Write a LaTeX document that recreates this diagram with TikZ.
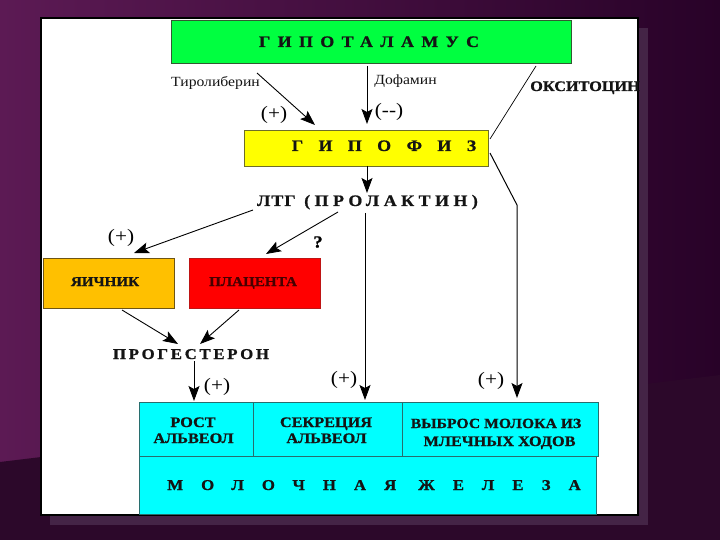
\documentclass[tikz,border=0pt]{standalone}
\usepackage{fontspec}
\setmainfont{Liberation Serif}[FakeStretch=1.12, BoldFeatures={FakeBold=0.9}]
\usetikzlibrary{arrows.meta}
\newcommand\lspc[2]{{\addfontfeature{LetterSpace=#1}#2}}
\definecolor{bgL}{RGB}{92,26,84}
\definecolor{bgR}{RGB}{40,2,40}
\definecolor{bgD}{RGB}{44,8,42}
\definecolor{shad}{RGB}{68,36,70}
\definecolor{grn}{RGB}{0,255,64}
\definecolor{ylw}{RGB}{255,255,0}
\definecolor{org}{RGB}{255,192,0}
\definecolor{cyn}{RGB}{0,255,255}
\definecolor{cynB}{RGB}{40,110,110}
\definecolor{grnB}{RGB}{50,90,50}
\definecolor{ylwB}{RGB}{110,110,40}
\definecolor{orgB}{RGB}{110,85,20}
\definecolor{redB}{RGB}{190,20,20}
\definecolor{redT}{RGB}{70,0,0}
\definecolor{txt}{RGB}{20,20,20}
\begin{document}
\begin{tikzpicture}[x=1pt,y=-1pt,
  box/.style={draw=#1, line width=0.9pt, inner sep=0pt, anchor=center},
  lbl/.style={inner sep=0pt, anchor=base, text=txt, font=\fontsize{14}{16}\selectfont},
  blbl/.style={inner sep=0pt, anchor=base, text=txt, font=\fontsize{14.5}{16}\selectfont\bfseries},
  sgn/.style={inner sep=0pt, anchor=center, font=\fontsize{19}{21}\selectfont},
  arr/.style={line width=0.9pt, -{Stealth[length=15pt,width=11pt,inset=3pt]}},
  ln/.style={line width=0.7pt}]
\useasboundingbox (0,0) rectangle (720,540);
\shade[left color=bgL, right color=bgR] (0,0) rectangle (720,540);
\fill[bgD] (0,462) -- (720,375) -- (720,540) -- (0,540) -- cycle;
\fill[shad] (50,28) rectangle (648,525);
\draw[fill=white, line width=1.6pt] (41,18) rectangle (638,515);

% boxes
\node[box=grnB, fill=grn, minimum width=400pt, minimum height=43pt] (hyp) at (371,41.5) {};
\node[blbl, font=\fontsize{16}{18}\selectfont\bfseries] (hypT) at (369,47) {\lspc{46}{ГИПОТАЛАМУС}};
\node[box=ylwB, fill=ylw, minimum width=244pt, minimum height=36pt] (pit) at (366,148) {};
\node[blbl, font=\fontsize{16}{18}\selectfont\bfseries] (pitT) at (384,151) {\lspc{96}{ГИПОФИЗ}};
\node[box=orgB, fill=org, minimum width=131pt, minimum height=50pt] (ova) at (108.5,283) {};
\node[blbl, font=\fontsize{13.5}{16}\selectfont\bfseries] (ovaT) at (105,286) {ЯИЧНИК};
\node[box=redB, fill=red, minimum width=131pt, minimum height=50pt] (pla) at (254.5,283) {};
\node[blbl, text=redT, font=\fontsize{13.5}{16}\selectfont\bfseries] (plaT) at (253,286) {ПЛАЦЕНТА};
\node[box=cynB, fill=cyn, minimum width=114pt, minimum height=54pt] (c1) at (196,429) {};
\node[box=cynB, fill=cyn, minimum width=149pt, minimum height=54pt] (c2) at (327.5,429) {};
\node[box=cynB, fill=cyn, minimum width=196pt, minimum height=54pt] (c3) at (500,429) {};
\node[box=cynB, fill=cyn, minimum width=457pt, minimum height=58pt] (c4) at (367.5,485) {};
\node[blbl] (c1a) at (193,427) {РОСТ};
\node[blbl] (c1b) at (193.5,443) {АЛЬВЕОЛ};
\node[blbl] (c2a) at (326,427) {СЕКРЕЦИЯ};
\node[blbl] (c2b) at (326.5,443) {АЛЬВЕОЛ};
\node[blbl, font=\fontsize{14}{16}\selectfont\bfseries] (c3a) at (496,428) {ВЫБРОС МОЛОКА ИЗ};
\node[blbl] (c3b) at (499.5,446) {МЛЕЧНЫХ ХОДОВ};
\node[blbl, font=\fontsize{15}{17}\selectfont\bfseries] (c4T) at (374,490) {\addfontfeature{LetterSpace=120}МОЛОЧНАЯ\hspace{22pt}ЖЕЛЕЗА};

% labels
\node[lbl] (tyr) at (215.5,86.5) {Тиролиберин};
\node[lbl] (dof) at (405.5,85) {Дофамин};
\node[blbl] (oxy) at (585,91) {ОКСИТОЦИН};
\node[blbl, font=\fontsize{16}{18}\selectfont\bfseries] (ltg) at (367.5,206) {\lspc{6}{ЛТГ}\hspace{4pt} \lspc{28}{(ПРОЛАКТИН)}};
\node[blbl, font=\fontsize{15}{17}\selectfont\bfseries] (prog) at (191,359) {\lspc{18}{ПРОГЕСТЕРОН}};
\node[sgn] (s1) at (274,115) {(+)};
\node[sgn] (s2) at (389,112) {(-{}-)};
\node[sgn] (s3) at (121,238) {(+)};
\node[sgn, font=\fontsize{17}{18}\selectfont\bfseries] (q) at (318,242) {?};
\node[sgn] (s4) at (217,387) {(+)};
\node[sgn] (s5) at (344,380) {(+)};
\node[sgn] (s6) at (491,381) {(+)};

% connector ends
\coordinate (t1) at (257,73);  \coordinate (t2) at (315,125);
\coordinate (d1) at (367,66);  \coordinate (d2) at (367,124);
\coordinate (o1) at (536,66);  \coordinate (o2) at (490,139);
\coordinate (o3) at (490,153); \coordinate (o4) at (517,205); \coordinate (o5) at (517,398);
\coordinate (p1) at (367,166); \coordinate (p2) at (367,193);
\coordinate (l1) at (253,210); \coordinate (l2) at (134,253);
\coordinate (l3) at (338,212); \coordinate (l4) at (266,254);
\coordinate (l5) at (365,213); \coordinate (l6) at (365,400);
\coordinate (g1) at (122,310); \coordinate (g2) at (178,344);
\coordinate (g3) at (239,310); \coordinate (g4) at (200,344);
\coordinate (r1) at (194,361); \coordinate (r2) at (194,401);

\draw[arr] (t1) -- (t2);
\draw[arr] (d1) -- (d2);
\draw[ln] (o1) -- (o2);
\draw[arr, line width=1pt] (o3) -- (o4) -- (o5);
\draw[arr] (p1) -- (p2);
\draw[arr] (l1) -- (l2);
\draw[arr] (l3) -- (l4);
\draw[arr] (l5) -- (l6);
\draw[arr] (g1) -- (g2);
\draw[arr] (g3) -- (g4);
\draw[arr] (r1) -- (r2);
\end{tikzpicture}
\end{document}
